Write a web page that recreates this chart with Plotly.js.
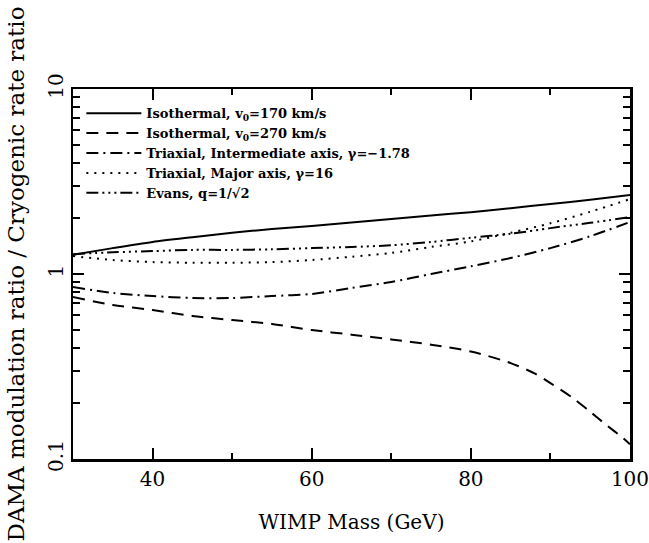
<!DOCTYPE html>
<html>
<head>
<meta charset="utf-8">
<script src="https://cdn.plot.ly/plotly-3.0.1.min.js"></script>
<style>html,body{margin:0;padding:0;background:#fff;}#chart{width:649px;height:543px;}</style>
</head>
<body>
<div id="chart"></div>
<script>
var mass = [30, 35, 40, 45, 50, 55, 60, 65, 70, 75, 80, 85, 90, 95, 100];
var isoMass270 = [30, 35, 40, 45, 50, 55, 60, 65, 70, 75, 80, 85, 88, 90, 93, 95, 97, 99, 100];

var iso170 = [1.27, 1.38, 1.49, 1.58, 1.67, 1.75, 1.82, 1.90, 1.98, 2.07, 2.16, 2.27, 2.39, 2.52, 2.67];
var iso270 = [0.751, 0.68, 0.639, 0.593, 0.564, 0.537, 0.498, 0.47, 0.443, 0.415, 0.381, 0.330, 0.290, 0.257, 0.211, 0.180, 0.153, 0.131, 0.12];
var triaxInter = [0.85, 0.79, 0.76, 0.742, 0.742, 0.76, 0.78, 0.84, 0.905, 1.0, 1.10, 1.22, 1.38, 1.60, 1.91];
var triaxMajor = [1.25, 1.19, 1.16, 1.15, 1.15, 1.16, 1.19, 1.24, 1.30, 1.40, 1.50, 1.67, 1.88, 2.17, 2.54];
var evans = [1.28, 1.31, 1.33, 1.35, 1.35, 1.36, 1.38, 1.40, 1.43, 1.49, 1.57, 1.65, 1.77, 1.89, 2.03];

var names = [
  "Isothermal, v<sub>0</sub>=170 km/s",
  "Isothermal, v<sub>0</sub>=270 km/s",
  "Triaxial, Intermediate axis, \u03b3=\u22121.78",
  "Triaxial, Major axis, \u03b3=16",
  "Evans, q=1/\u221a2"
];

var xTickVals = [40, 60, 80, 100];
var xMinorVals = [50, 70, 90];
var yTickVals = [0.1, 1, 10];
var yTickText = ["0.1", "1", "10"];
var yMinorVals = [0.2, 0.3, 0.4, 0.5, 0.6, 0.7, 0.8, 0.9, 2, 3, 4, 5, 6, 7, 8, 9];

var lineStyle = function (dash) { return {color: "#000", width: 2, dash: dash, shape: "spline", smoothing: 0.8}; };

var traces = [
  {x: mass, y: iso170, name: names[0], mode: "lines", line: lineStyle("solid")},
  {x: isoMass270, y: iso270, name: names[1], mode: "lines", line: lineStyle("12px,8px")},
  {x: mass, y: triaxInter, name: names[2], mode: "lines", line: lineStyle("12px,5px,2px,5px")},
  {x: mass, y: triaxMajor, name: names[3], mode: "lines", line: lineStyle("2px,6px")},
  {x: mass, y: evans, name: names[4], mode: "lines", line: lineStyle("12px,4px,2px,4px,2px,4px,2px,4px")}
];

var serif = "DejaVu Serif, Liberation Serif, serif";

var layout = {
  width: 649, height: 543,
  margin: {l: 73, r: 19, t: 89, b: 84},
  paper_bgcolor: "#fff", plot_bgcolor: "#fff",
  showlegend: true,
  legend: {
    x: 0.015, y: 0.975, xanchor: "left", yanchor: "top",
    bgcolor: "rgba(0,0,0,0)", borderwidth: 0,
    font: {family: serif, size: 13, color: "#000", weight: "bold"},
    itemwidth: 55, tracegroupgap: 0
  },
  xaxis: {
    range: [29.999, 100.001], showgrid: false, zeroline: false,
    showline: true, linecolor: "#000", linewidth: 2.5, mirror: "ticks",
    ticks: "inside", ticklen: 11, tickwidth: 2, tickcolor: "#000",
    tickmode: "array", tickvals: xTickVals, ticktext: xTickVals.map(String),
    ticklabelstandoff: 0, ticklabeloverflow: "allow",
    minor: {tickmode: "array", tickvals: xMinorVals, ticks: "inside", ticklen: 6, tickwidth: 2, tickcolor: "#000"},
    tickfont: {family: serif, size: 20, color: "#000"},
    title: {text: "WIMP Mass (GeV)", font: {family: serif, size: 20, color: "#000"}, standoff: 26}
  },
  yaxis: {
    type: "log", range: [-1, 1], showgrid: false, zeroline: false,
    showline: true, linecolor: "#000", linewidth: 2.5, mirror: "ticks",
    ticks: "inside", ticklen: 11, tickwidth: 2, tickcolor: "#000",
    tickmode: "array", tickvals: yTickVals, ticktext: yTickText,
    tickangle: -90, ticklabelstandoff: 0, ticklabeloverflow: "allow",
    minor: {tickmode: "array", tickvals: yMinorVals, ticks: "inside", ticklen: 7, tickwidth: 2, tickcolor: "#000"},
    tickfont: {family: serif, size: 20, color: "#000"},
    title: {text: "DAMA modulation ratio / Cryogenic rate ratio", font: {family: serif, size: 23, color: "#000"}, standoff: 13}
  }
};

Plotly.newPlot("chart", traces, layout, {displayModeBar: false, staticPlot: true});
</script>
</body>
</html>
